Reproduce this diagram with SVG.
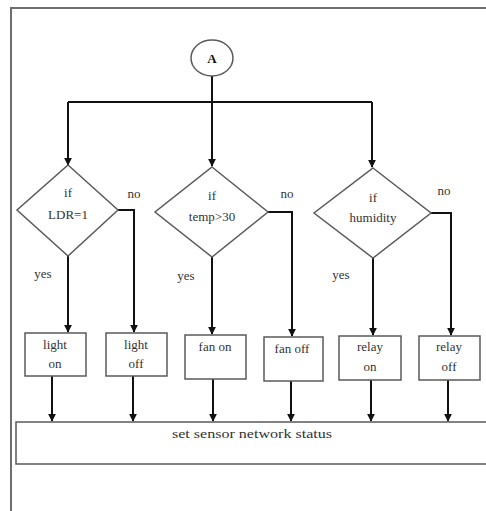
<svg xmlns="http://www.w3.org/2000/svg" width="486" height="511" viewBox="0 0 486 511">
<style>
.frame{fill:none;stroke:#6e6e6e;stroke-width:2}
.shape{fill:#fff;stroke:#5a5a5a;stroke-width:1.5}
.wire{fill:none;stroke:#111;stroke-width:2}
text{font-family:"Liberation Serif","DejaVu Serif",serif;font-size:13px;fill:#333;text-anchor:middle}
.bold{font-weight:bold;font-size:13px;fill:#111}
</style>
<defs>
<marker id="arr" viewBox="0 0 10 10" refX="9" refY="5" markerWidth="4" markerHeight="4" orient="auto" markerUnits="strokeWidth">
<path d="M0,0 L10,5 L0,10 z" fill="#111"/>
</marker>
</defs>
<rect width="486" height="511" fill="#fff"/>
<path class="frame" d="M11,511 L11,8 L486,8"/>
<g id="connectors">
<path class="wire" d="M212,76 L212,166" marker-end="url(#arr)"/>
<path class="wire" d="M68,102 L372,102"/>
<path class="wire" d="M68,102 L68,165" marker-end="url(#arr)"/>
<path class="wire" d="M372,102 L372,167" marker-end="url(#arr)"/>
<path class="wire" d="M68,256 L68,332" marker-end="url(#arr)"/>
<path class="wire" d="M118,210 L134,210 L134,332" marker-end="url(#arr)"/>
<path class="wire" d="M212,257 L212,334" marker-end="url(#arr)"/>
<path class="wire" d="M268,212 L292,212 L292,336" marker-end="url(#arr)"/>
<path class="wire" d="M373,258 L373,335" marker-end="url(#arr)"/>
<path class="wire" d="M431,213 L451,213 L451,335" marker-end="url(#arr)"/>
<path class="wire" d="M52,376 L52,421" marker-end="url(#arr)"/>
<path class="wire" d="M133,376 L133,421" marker-end="url(#arr)"/>
<path class="wire" d="M213,379 L213,421" marker-end="url(#arr)"/>
<path class="wire" d="M291,381 L291,421" marker-end="url(#arr)"/>
<path class="wire" d="M371,380 L371,421" marker-end="url(#arr)"/>
<path class="wire" d="M448,380 L448,421" marker-end="url(#arr)"/>
<text x="134" y="198">no</text>
<text x="287" y="198">no</text>
<text x="444" y="195">no</text>
<text x="43" y="278">yes</text>
<text x="186" y="280">yes</text>
<text x="341" y="279">yes</text>
</g>
<g id="nodeA">
<ellipse class="shape" cx="212" cy="58" rx="21" ry="18"/>
<text class="bold" x="212" y="63">A</text>
</g>
<g id="ldr">
<polygon class="shape" points="68,165 118,210 68,256 17,210"/>
<text x="68" y="197">if</text>
<text x="68" y="219">LDR=1</text>
</g>
<g id="temp">
<polygon class="shape" points="212,167 268,212 212,257 155,212"/>
<text x="212" y="200">if</text>
<text x="212" y="221">temp&gt;30</text>
</g>
<g id="humidity">
<polygon class="shape" points="373,168 431,213 373,258 314,213"/>
<text x="373" y="202">if</text>
<text x="373" y="222">humidity</text>
</g>
<g id="lighton">
<rect class="shape" x="25" y="333" width="61" height="43"/>
<text x="55" y="349">light</text>
<text x="55" y="368">on</text>
</g>
<g id="lightoff">
<rect class="shape" x="106" y="333" width="61" height="43"/>
<text x="136" y="349">light</text>
<text x="136" y="368">off</text>
</g>
<g id="fanon">
<rect class="shape" x="185" y="335" width="61" height="44"/>
<text x="215" y="351">fan on</text>
</g>
<g id="fanoff">
<rect class="shape" x="264" y="337" width="59" height="44"/>
<text x="292" y="353">fan off</text>
</g>
<g id="relayon">
<rect class="shape" x="339" y="336" width="62" height="44"/>
<text x="370" y="351">relay</text>
<text x="370" y="371">on</text>
</g>
<g id="relayoff">
<rect class="shape" x="419" y="336" width="61" height="44"/>
<text x="449" y="351">relay</text>
<text x="449" y="371">off</text>
</g>
<g id="status">
<rect class="shape" x="16" y="422" width="472" height="42"/>
<text x="252" y="438" textLength="160" lengthAdjust="spacingAndGlyphs">set sensor network status</text>
</g>
</svg>
